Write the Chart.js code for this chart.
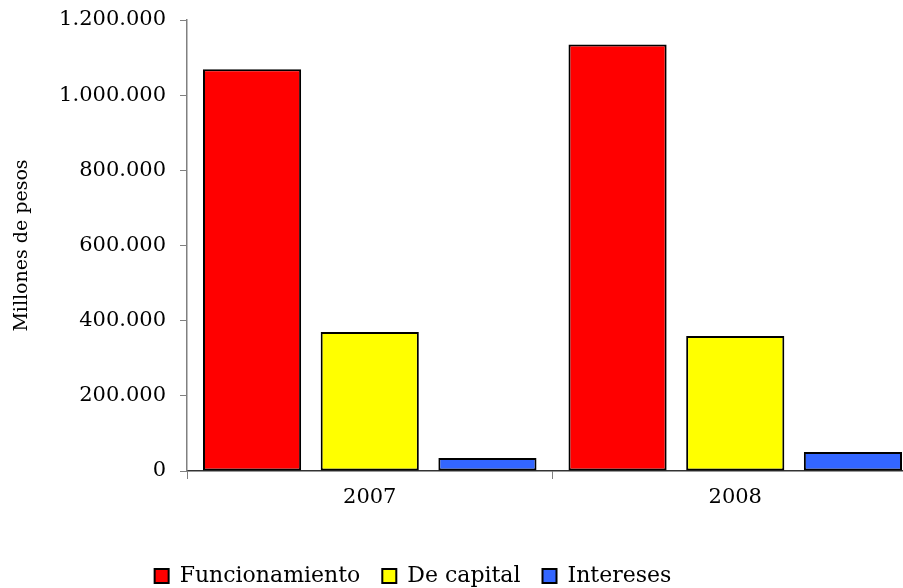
<!DOCTYPE html>
<html>
<head>
<meta charset="utf-8">
<script src="https://cdn.jsdelivr.net/npm/chart.js@4"></script>
<style>
  html, body { margin: 0; padding: 0; background: #fff; overflow: hidden; }
  #wrap { position: relative; width: 918px; height: 597px; }
</style>
</head>
<body>
<div id="wrap"><canvas id="c"></canvas></div>
<script>
const years = ['2007', '2008'];
const funcionamiento = [1069000, 1135000];
const deCapital = [370000, 359000];
const intereses = [34500, 50500];
const seriesNames = ['Funcionamiento', 'De capital', 'Intereses'];
const yTicks = [0, 200000, 400000, 600000, 800000, 1000000, 1200000];

function fmt(v) {
  return String(Math.round(v)).replace(/\B(?=(\d{3})+(?!\d))/g, '.');
}

const serif = "'DejaVu Serif', serif";

const shiftLegend = {
  id: 'shiftLegend',
  afterLayout(chart) {
    const lg = chart.legend;
    if (!lg) return;
    const dx = -46;
    lg.left += dx; lg.right += dx;
    if (lg.legendHitBoxes) lg.legendHitBoxes.forEach(h => h.left += dx);
  }
};

new Chart(document.getElementById('c'), {
  type: 'bar',
  data: {
    labels: years,
    datasets: [
      { label: seriesNames[0], data: funcionamiento, backgroundColor: '#FF0000' },
      { label: seriesNames[1], data: deCapital, backgroundColor: '#FFFF00' },
      { label: seriesNames[2], data: intereses, backgroundColor: '#3366FF' }
    ].map(d => Object.assign(d, { borderColor: '#000000', borderWidth: 2, borderSkipped: false,
      categoryPercentage: 0.966, barPercentage: 0.834 }))
  },
  options: {
    responsive: true,
    maintainAspectRatio: false,
    animation: false,
    layout: { padding: { top: 20, left: 0, right: 0, bottom: 0 } },
    plugins: {
      tooltip: { enabled: false },
      legend: {
        position: 'bottom',
        labels: {
          font: { family: serif, size: 22 },
          color: '#000',
          boxWidth: 14,
          boxHeight: 14,
          padding: 22
        }
      }
    },
    scales: {
      x: {
        offset: true,
        grid: { display: true, drawOnChartArea: false, drawTicks: true, tickLength: 8, color: '#808080', offset: true },
        border: { display: true, color: '#333333', width: 1.5 },
        ticks: { font: { family: serif, size: 21 }, color: '#000', padding: 6 },
        afterFit: (s) => { s.height = 72; }
      },
      y: {
        min: 0,
        max: 1200000,
        afterBuildTicks: (s) => { s.ticks = yTicks.map(v => ({ value: v })); },
        grid: { display: true, drawOnChartArea: false, drawTicks: true, tickLength: 7, color: '#808080' },
        border: { display: true, color: '#808080', width: 1.5 },
        ticks: { font: { family: serif, size: 21 }, color: '#000', padding: 14, callback: (v) => fmt(v) },
        title: { display: true, text: 'Millones de pesos', font: { family: serif, size: 19 }, color: '#000', padding: { top: 11, bottom: 0 } },
        afterFit: (s) => { s.width = 187; s.paddingTop = 0; s.paddingBottom = 0; }
      }
    }
  },
  plugins: [shiftLegend]
});
</script>
</body>
</html>
